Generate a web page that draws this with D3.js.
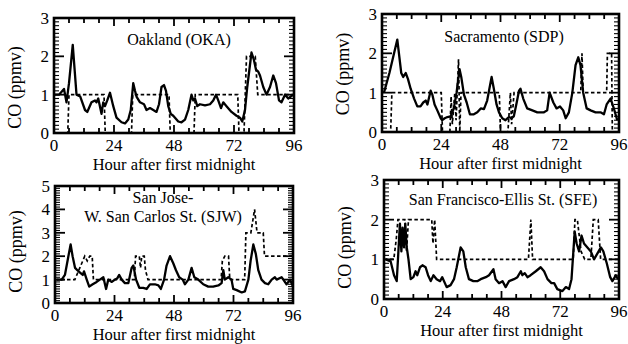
<!DOCTYPE html>
<html>
<head>
<meta charset="utf-8">
<script src="https://cdn.jsdelivr.net/npm/d3@7"></script>
<style>
  body { margin: 0; background: #fff; }
  svg { display: block; }
</style>
</head>
<body>
<div id="chart"></div>
<script>
// hour ticks on the x axis
var hourTicks = [0, 24, 48, 72, 96];

// Oakland (OKA): solid = hourly CO, dashed = step series
var okaSolid = [[0,1.0],[2,1.0],[4,1.15],[5,0.8],[6,1.3],[7.5,2.3],[9,1.0],[10.5,0.95],[12.4,0.6],[13.3,0.55],[15,0.8],[16.4,0.85],[17,0.8],[17.7,0.9],[19,0.5],[19.7,0.8],[20.4,0.7],[21.3,0.85],[22.4,1.05],[23.7,0.7],[25,0.4],[27,0.28],[28.4,0.25],[29.7,0.35],[30.7,0.6],[31.7,1.3],[32.4,1.1],[33,0.95],[34.4,0.8],[36,0.75],[37,0.6],[38.4,0.65],[39.7,0.6],[41,0.55],[42,0.75],[43,1.2],[44,1.25],[44.8,1.1],[45.7,0.7],[46.7,0.5],[47.7,0.45],[49.7,0.3],[51,0.28],[52.4,0.35],[53.7,0.6],[55,1.0],[55.7,0.85],[56.4,0.9],[57.3,0.7],[58.4,0.75],[60.4,0.72],[62.4,0.75],[63.7,0.85],[64.8,1.0],[65.7,0.85],[66.8,0.65],[67.7,0.8],[69,0.7],[71,0.55],[73,0.45],[74.4,0.4],[75.3,0.3],[76.4,0.6],[77.3,1.2],[79,2.1],[80,1.9],[80.8,1.65],[81.7,1.6],[82.4,1.5],[83.7,1.2],[85,1.0],[86.4,1.2],[87.7,1.5],[88.8,1.3],[90,0.85],[91,0.8],[92.4,1.0],[93.7,0.9],[95.7,1.0]];
var okaDash = [[0,0],[5.5,0],[6,1],[20,1],[20.5,0],[31,0],[31.5,1],[46,1],[46.5,0],[56,0],[56.5,1],[73.5,1],[74,0],[76,0],[77,2],[80.5,2],[81.5,1],[96,1]];

// Sacramento (SDP)
var sdpSolid = [[0.8,1.0],[3,1.5],[6.2,2.35],[7.8,1.5],[8.6,1.4],[9.6,1.5],[10.5,1.35],[11.6,1.1],[13,0.85],[14.3,0.65],[15.6,0.65],[16.7,0.75],[17.7,0.8],[18.4,0.7],[19.7,1.05],[20.4,0.95],[21.3,0.7],[22.4,0.55],[23.8,0.35],[24.4,0.3],[25.4,0.35],[26.5,0.38],[27.8,0.4],[29.1,0.6],[30.2,1.0],[31.4,1.6],[32.1,1.4],[33.2,0.95],[34.3,0.75],[35.6,0.45],[37.2,0.45],[38.6,0.5],[40,0.6],[41.3,0.58],[42.6,0.8],[44.4,1.4],[45.3,1.1],[46.4,0.7],[47.4,0.5],[48.7,0.35],[50,0.3],[51.4,0.38],[52.4,0.35],[53.4,0.4],[54.4,0.7],[55.5,1.05],[56.1,1.1],[57.2,0.85],[58.8,0.6],[60.9,0.55],[62.9,0.5],[65.6,0.5],[66.9,0.55],[67.9,1.0],[69.4,0.75],[70.7,0.6],[72.1,0.65],[73.4,0.55],[74.4,0.35],[75.7,0.5],[77.1,1.0],[78.4,1.7],[79.5,1.9],[80.4,1.7],[81.5,1.0],[82.9,0.6],[84.5,0.55],[86.5,0.5],[88.5,0.5],[89.9,0.45],[91,0.7],[92.6,0.85],[93.9,0.6],[95.3,0.3]];
var sdpDash = [[0,0],[3.5,0],[4,1],[24,1],[24.5,0],[27.5,0],[28,0.9],[28.5,0.2],[29.5,1.0],[30,0.3],[31,1.85],[31.5,0],[32,1],[47.5,1],[48,0],[51,0],[52,1],[52.5,0.2],[53.5,1],[80.5,1],[81,2],[81.5,1],[91,1],[91.3,2],[93,2],[93.3,0],[96,0]];

// San Jose - W. San Carlos St. (SJW)
var sjwSolid = [[0.7,1.0],[2.7,1.0],[4,1.2],[5.4,2.0],[6.3,2.5],[7.1,2.0],[8.1,1.5],[9,1.4],[10.1,1.3],[11.2,1.2],[11.7,1.35],[12.8,1.0],[13.8,0.7],[15.2,0.8],[16.8,0.9],[18.1,1.0],[19.5,1.1],[20.6,0.6],[21.5,1.0],[22.8,0.9],[24.2,1.0],[25.1,1.05],[25.9,1.2],[26.9,1.0],[28.2,0.85],[29.6,0.85],[30.9,1.5],[31.6,1.6],[32.7,1.0],[34,0.65],[35.6,0.65],[37,0.6],[38.3,0.8],[40.3,0.8],[41.7,0.75],[42.7,0.6],[44,1.0],[45,1.6],[46.4,2.0],[47.7,1.7],[48.8,1.4],[50.1,1.1],[51.5,1.0],[52.4,0.8],[53.8,1.0],[55.1,1.5],[56.2,1.1],[57.8,1.0],[59.8,0.8],[61.8,0.7],[63.8,0.7],[65.9,0.75],[67.2,0.85],[67.9,1.4],[68.5,1.0],[69.9,1.1],[71.2,1.0],[71.9,0.6],[73.3,0.55],[75.3,0.45],[76.6,0.5],[78,1.0],[78.9,1.8],[80,2.5],[81,2.1],[82,1.4],[83.3,1.0],[84.7,0.85],[86,0.8],[87.4,1.0],[88.7,1.1],[89.4,1.0],[91.4,1.1],[92.1,1.0],[93.4,0.8],[94.8,1.0],[96,0.7]];
var sjwDash = [[0,1],[8,1],[10,1.5],[12,2],[13,1.8],[14,2],[15,2],[15.5,1],[32,1],[32.5,2],[34,2],[34.5,1.5],[35,2],[36,2],[36.5,1.4],[37.5,1],[67,1],[67.5,1.8],[68.5,2],[70,2],[70.5,1],[76.5,1],[77,3],[79,3],[80.5,4],[81.5,3],[84,3],[84.5,2],[96,2]];

// San Francisco - Ellis St. (SFE)
var sfeSolid = [[0.7,1.0],[2.7,0.95],[4.1,0.6],[5.2,0.45],[5.7,1.0],[6.5,1.9],[7.1,1.2],[7.6,1.8],[8.2,1.3],[8.7,1.9],[9.3,1.3],[10,1.0],[10.9,0.5],[12,0.55],[12.9,0.7],[13.6,0.6],[14.7,0.8],[15.7,0.85],[17,0.8],[18,0.6],[19.1,0.45],[20.2,0.6],[21.5,0.5],[22.9,0.45],[23.8,0.55],[25.6,0.3],[27.2,0.35],[28.6,0.5],[29.7,0.8],[31.3,1.3],[32.4,1.2],[33.4,0.8],[34.7,0.5],[36.5,0.45],[38.1,0.45],[39.5,0.5],[41.6,0.55],[42.9,0.6],[44.7,0.75],[45.6,0.5],[47,0.4],[48.4,0.45],[49.7,0.3],[51.1,0.45],[53.1,0.5],[54.5,0.55],[55.9,0.7],[56.5,0.6],[57.5,0.65],[58.6,0.55],[59.9,0.6],[62,0.7],[64,0.8],[65.4,0.7],[66.8,0.5],[68.4,0.4],[69.5,0.4],[70.8,0.25],[72.9,0.2],[74.3,0.3],[75.6,0.25],[76.6,0.5],[77.9,1.7],[78.7,1.4],[79.7,1.2],[80.7,1.6],[81.7,1.4],[83.1,1.3],[84.5,1.2],[85.8,1.0],[87.2,1.15],[88.6,1.3],[89.6,1.2],[91,0.9],[92.4,0.55],[93.3,0.45],[94.7,0.6],[95.6,0.5]];
var sfeDash = [[0,1],[4,1],[5,1.5],[5.7,2],[8.5,2],[9.2,1.2],[10,2],[19.5,2],[20,1.4],[20.7,2],[21.5,1],[59,1],[60,2],[60.7,1],[77.3,1],[78,2],[79,2],[80.5,1.2],[82,1],[84.5,1],[85.5,2],[87.5,2],[88.5,1],[96,1]];

var FONT = "'Liberation Serif', 'DejaVu Serif', serif";
var W = 628, H = 344;
var svg = d3.select('#chart').append('svg')
  .attr('width', W)
  .attr('height', H)
  .attr('font-family', FONT);

var panels = [
  { title: ['Oakland (OKA)'], solid: okaSolid, dash: okaDash, yMax: 3,
    x0: 54, x1: 294, y0: 18, y1: 133, titleX: 179, titleY: [45], labelDy: 12 },
  { title: ['Sacramento (SDP)'], solid: sdpSolid, dash: sdpDash, yMax: 3,
    x0: 382, x1: 619, y0: 14, y1: 132, titleX: 504, titleY: [42], labelDy: 1 },
  { title: ['San Jose-', 'W. San Carlos St. (SJW)'], solid: sjwSolid, dash: sjwDash, yMax: 5,
    x0: 55, x1: 293, y0: 186, y1: 303, titleX: 163, titleY: [203, 222], labelDy: 7 },
  { title: ['San Francisco-Ellis St. (SFE)'], solid: sfeSolid, dash: sfeDash, yMax: 3,
    x0: 384, x1: 619, y0: 180, y1: 299, titleX: 503, titleY: [205], labelDy: 8 }
];

panels.forEach(function(p) {
  var x = d3.scaleLinear().domain([0, 96]).range([p.x0, p.x1]);
  var y = d3.scaleLinear().domain([0, p.yMax]).range([p.y1, p.y0]);
  var g = svg.append('g');

  var line = d3.line()
    .x(function(d) { return x(d[0]); })
    .y(function(d) { return y(d[1]); });

  // dashed step series
  g.append('path')
    .datum(p.dash)
    .attr('fill', 'none')
    .attr('stroke', '#000')
    .attr('stroke-width', 1.7)
    .attr('stroke-dasharray', '3.5,2.5')
    .attr('d', line);

  // observed series
  g.append('path')
    .datum(p.solid)
    .attr('fill', 'none')
    .attr('stroke', '#000')
    .attr('stroke-width', 2.3)
    .attr('stroke-linejoin', 'round')
    .attr('d', line);

  // x ticks, every 6 h, inward on bottom and top
  d3.range(0, 97, 6).forEach(function(h) {
    var len = h % 24 === 0 ? 8 : 5;
    g.append('line').attr('x1', x(h)).attr('x2', x(h))
      .attr('y1', p.y1).attr('y2', p.y1 - len)
      .attr('stroke', '#000').attr('stroke-width', 1.8);
    g.append('line').attr('x1', x(h)).attr('x2', x(h))
      .attr('y1', p.y0).attr('y2', p.y0 + len)
      .attr('stroke', '#000').attr('stroke-width', 1.8);
  });

  // y ticks, every 0.1, inward on left and right
  d3.range(0, p.yMax * 10 + 1).forEach(function(i) {
    var v = i / 10;
    var major = i % 10 === 0;
    var len = major ? 10 : 5;
    g.append('line').attr('x1', p.x0).attr('x2', p.x0 + len)
      .attr('y1', y(v)).attr('y2', y(v))
      .attr('stroke', '#000').attr('stroke-width', major ? 1.8 : 1.1);
    g.append('line').attr('x1', p.x1).attr('x2', p.x1 - len)
      .attr('y1', y(v)).attr('y2', y(v))
      .attr('stroke', '#000').attr('stroke-width', major ? 1.8 : 1.1);
  });

  // frame
  g.append('rect')
    .attr('x', p.x0).attr('y', p.y0)
    .attr('width', p.x1 - p.x0).attr('height', p.y1 - p.y0)
    .attr('fill', 'none').attr('stroke', '#000').attr('stroke-width', 2.6);

  // tick labels
  g.selectAll('.xl').data(hourTicks).enter().append('text')
    .attr('x', function(d) { return x(d); })
    .attr('y', p.y1 + 18)
    .attr('text-anchor', 'middle')
    .attr('font-family', FONT)
    .attr('font-size', 17)
    .text(function(d) { return d; });

  g.selectAll('.yl').data(d3.range(0, p.yMax + 1)).enter().append('text')
    .attr('x', p.x0 - 5)
    .attr('y', function(d) { return y(d) + 6; })
    .attr('text-anchor', 'end')
    .attr('font-family', FONT)
    .attr('font-size', 17)
    .text(function(d) { return d; });

  // axis titles
  g.append('text')
    .attr('x', (p.x0 + p.x1) / 2)
    .attr('y', p.y1 + 37)
    .attr('text-anchor', 'middle')
    .attr('font-family', FONT)
    .attr('font-size', 16.5)
    .text('Hour after first midnight');

  var cy = (p.y0 + p.y1) / 2 + p.labelDy;
  g.append('text')
    .attr('transform', 'translate(' + (p.x0 - 33) + ',' + cy + ') rotate(-90)')
    .attr('text-anchor', 'middle')
    .attr('font-family', FONT)
    .attr('font-size', 18)
    .text('CO (ppmv)');

  // station title
  p.title.forEach(function(t, i) {
    g.append('text')
      .attr('x', p.titleX)
      .attr('y', p.titleY[i])
      .attr('text-anchor', 'middle')
      .attr('font-family', FONT)
      .attr('font-size', 16)
      .text(t);
  });
});
</script>
</body>
</html>
